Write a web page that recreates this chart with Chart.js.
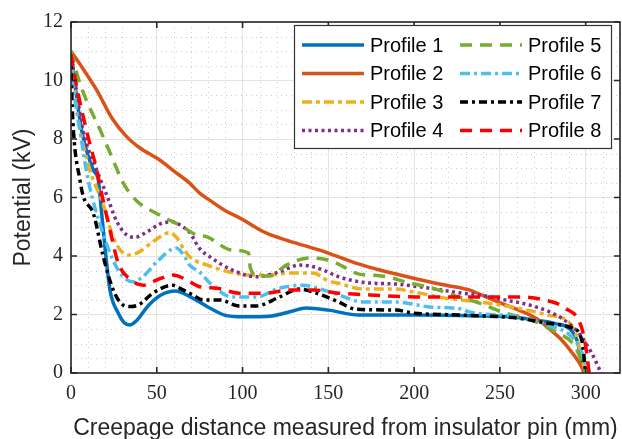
<!DOCTYPE html>
<html>
<head>
<meta charset="utf-8">
<script src="https://cdn.jsdelivr.net/npm/chart.js@4.4.0/dist/chart.umd.min.js"></script>
<style>
  body { margin: 0; background: #fff; }
  #wrap { width: 622px; height: 439px; position: relative; }
</style>
</head>
<body>
<div id="wrap"><canvas id="chart-potential"></canvas></div>
<script>
// readings taken off the figure: [creepage distance (mm), potential (kV)]
const profile1 = [[0,10.9],[6.2,8.3],[13,6.94],[15.9,6.6],[17.8,5.5],[19.8,4.3],[22.7,2.84],[27.5,2.05],[31,1.72],[34.3,1.64],[38,1.78],[45,2.3],[52,2.65],[61,2.8],[69,2.62],[80,2.25],[89.5,1.98],[100,1.92],[117,1.95],[128,2.1],[137,2.22],[150,2.15],[168,1.98],[200,1.98],[238,1.95],[255,1.92],[271,1.81],[283,1.68],[290,1.54],[295,1.1],[299,0]];
const profile2 = [[0,11.0],[7,10.4],[15,9.67],[24,8.7],[32.4,8.08],[40,7.7],[51.7,7.28],[60,6.9],[69,6.5],[75,6.15],[81,5.9],[90,5.55],[100,5.25],[107,5.0],[114,4.78],[125,4.55],[135,4.37],[145,4.2],[156,3.97],[168,3.72],[180,3.52],[199,3.25],[218.6,3.0],[232,2.84],[238,2.7],[251,2.38],[261,2.15],[271,1.87],[280,1.45],[286,1.13],[292,0.7],[297.7,0.2],[299,0]];
const profile3 = [[0,10.9],[4.3,8.65],[11,6.94],[13,6.6],[18.6,5.8],[24.5,4.65],[30.4,4.1],[34.3,4.03],[40,4.15],[48,4.5],[57.6,4.8],[62,4.6],[66,4.2],[70,3.93],[80,3.68],[88,3.52],[104,3.35],[115,3.35],[127,3.42],[141,3.42],[150,3.15],[156,3.07],[170,2.87],[189,2.87],[199,2.78],[218,2.56],[232,2.47],[245,2.37],[261,2.21],[278,1.98],[290,1.75],[294,1.36],[297,0.7],[300,0]];
const profile4 = [[0,10.9],[7,8.3],[15,6.94],[20.7,6.1],[26.5,5.2],[32.4,4.72],[37.2,4.64],[45,4.85],[52,5.1],[59.3,5.17],[65,5.0],[69,4.82],[75,4.25],[81,3.97],[94,3.52],[108,3.29],[121.5,3.46],[133,3.69],[140,3.65],[147,3.52],[156,3.29],[170,3.1],[189,3.04],[209,2.9],[228,2.73],[238,2.67],[251,2.52],[271,2.26],[286,1.87],[296,1.36],[303.5,0.68],[309,0]];
const profile5 = [[0,11.0],[5.2,9.9],[17.8,8.2],[23.7,7.4],[30.4,6.5],[38,5.9],[51.7,5.4],[65,5.0],[73,4.72],[79,4.66],[94,4.2],[103.5,4.1],[104.5,3.6],[109,3.32],[116,3.32],[125.5,3.69],[139,3.93],[147,3.9],[154.6,3.76],[168,3.38],[181,3.32],[196,3.1],[210.6,2.9],[226,2.6],[238,2.39],[251,2.09],[271,1.75],[282.5,1.4],[294,0.89],[300,0]];
const profile6 = [[0,10.8],[1.4,9.8],[5.2,8.3],[10,6.6],[18.6,4.78],[24.5,3.86],[30.4,3.29],[36,3.12],[42,3.3],[50,3.8],[61.4,4.27],[66,4.0],[69,3.7],[75,3.45],[81,3.07],[94,2.6],[108,2.6],[121.5,2.9],[135,3.0],[147,2.84],[156,2.67],[170,2.43],[189,2.43],[209,2.26],[228,2.18],[232,2.09],[261,1.92],[278,1.64],[292,1.23],[298,0.68],[302,0]];
const profile7 = [[0,10.9],[0.5,9.5],[1.4,8.3],[5.2,6.6],[7.2,6.03],[13,5.46],[18.8,3.98],[24.6,2.84],[30.4,2.32],[35,2.27],[40,2.35],[47.7,2.73],[59.3,3.0],[65,2.85],[71,2.67],[77,2.5],[86.6,2.5],[98,2.29],[108,2.29],[121.5,2.6],[133,2.87],[143,2.73],[156,2.43],[166,2.18],[189.5,2.15],[199,2.05],[228,1.98],[261,1.87],[278,1.7],[292,1.54],[297.7,1.13],[300,0]];
const profile8 = [[0,10.9],[3.3,9.8],[9,8.3],[15,6.94],[17.8,6.15],[22.7,4.9],[27.5,3.76],[35,3.18],[42,3.0],[50,3.18],[59.3,3.35],[67,3.2],[75,2.95],[85,2.9],[98,2.73],[114,2.73],[127,2.84],[141,2.84],[156,2.73],[174,2.67],[201,2.6],[232,2.6],[261,2.6],[275.6,2.5],[288,2.22],[297.7,1.54],[300.6,0.68],[302,0]];

const profileNames = ['Profile 1', 'Profile 2', 'Profile 3', 'Profile 4', 'Profile 5', 'Profile 6', 'Profile 7', 'Profile 8'];
const profileData = [profile1, profile2, profile3, profile4, profile5, profile6, profile7, profile8];

const xTicks = [0, 50, 100, 150, 200, 250, 300];
const yTicks = [0, 2, 4, 6, 8, 10, 12];

// MATLAB default line colours
const colors = ['#0072BD', '#D95319', '#EDB120', '#7E2F8E', '#77AC30', '#4DBEEE', '#000000', '#FF0000'];
const dashes = [[], [], [10, 4, 4, 4], [3, 3.5], [12, 8], [10, 4, 3, 4], [8, 4, 3, 4], [12, 8]];

const datasets = profileData.map((pts, i) => ({
    label: profileNames[i],
    data: pts.map(p => ({ x: p[0], y: p[1] })),
    borderColor: colors[i],
    backgroundColor: colors[i],
    borderWidth: 3.5,
    borderDash: dashes[i],
    borderCapStyle: 'butt',
    pointRadius: 0,
    cubicInterpolationMode: 'monotone',
    order: 8 - i
}));

// dotted minor grid (every 10 mm / 0.5 kV)
const minorGrid = {
    id: 'minorGrid',
    beforeDatasetsDraw(chart) {
        const { ctx, chartArea: a, scales: { x, y } } = chart;
        ctx.save();
        ctx.strokeStyle = 'rgba(0,0,0,0.2)';
        ctx.lineWidth = 1;
        ctx.setLineDash([1, 4]);
        for (let v = 10; v < x.max; v += 10) {
            if (v % 50 === 0) continue;
            const px = Math.round(x.getPixelForValue(v)) + 0.5;
            ctx.beginPath(); ctx.moveTo(px, a.bottom); ctx.lineTo(px, a.top); ctx.stroke();
        }
        for (let v = 0.5; v < y.max; v += 0.5) {
            if (v % 2 === 0) continue;
            const py = Math.round(y.getPixelForValue(v)) + 0.5;
            ctx.beginPath(); ctx.moveTo(a.left, py); ctx.lineTo(a.right, py); ctx.stroke();
        }
        ctx.restore();
    }
};

// box round the axes with inward ticks, then the two-column legend
const boxAndLegend = {
    id: 'boxAndLegend',
    afterDraw(chart) {
        const { ctx, chartArea: a, scales: { x, y } } = chart;
        ctx.save();
        ctx.strokeStyle = '#262626';
        ctx.lineWidth = 1.6;
        ctx.setLineDash([]);
        ctx.strokeRect(a.left, a.top, a.right - a.left, a.bottom - a.top);
        ctx.beginPath();
        xTicks.forEach(v => {
            const px = x.getPixelForValue(v);
            ctx.moveTo(px, a.bottom); ctx.lineTo(px, a.bottom - 6);
            ctx.moveTo(px, a.top); ctx.lineTo(px, a.top + 6);
        });
        yTicks.forEach(v => {
            const py = y.getPixelForValue(v);
            ctx.moveTo(a.left, py); ctx.lineTo(a.left + 6, py);
            ctx.moveTo(a.right, py); ctx.lineTo(a.right - 6, py);
        });
        ctx.stroke();

        // legend
        const lw = 317, lh = 123;
        const lx = a.right - 9 - lw, ly = a.top + 3;
        ctx.fillStyle = '#ffffff';
        ctx.fillRect(lx, ly, lw, lh);
        ctx.strokeStyle = '#333333';
        ctx.lineWidth = 1.2;
        ctx.strokeRect(lx + 0.5, ly + 0.5, lw, lh);
        ctx.font = '20px "Liberation Sans", Arial, sans-serif';
        ctx.textBaseline = 'middle';
        ctx.textAlign = 'left';
        chart.data.datasets.forEach((ds, i) => {
            const col = Math.floor(i / 4), row = i % 4;
            const x0 = lx + 8 + col * 158;
            const yc = ly + 20 + row * 28.5;
            ctx.strokeStyle = ds.borderColor;
            ctx.lineWidth = ds.borderWidth;
            ctx.lineCap = 'butt';
            ctx.setLineDash(ds.borderDash);
            ctx.beginPath(); ctx.moveTo(x0, yc); ctx.lineTo(x0 + 62, yc); ctx.stroke();
            ctx.setLineDash([]);
            ctx.fillStyle = '#000000';
            ctx.fillText(ds.label, x0 + 68, yc + 1);
        });
        ctx.restore();
    }
};

new Chart(document.getElementById('chart-potential'), {
    type: 'line',
    data: { datasets: datasets },
    options: {
        responsive: true,
        maintainAspectRatio: false,
        animation: false,
        events: [],
        layout: { padding: { top: 22, right: 2, left: 0, bottom: 0 } },
        scales: {
            x: {
                type: 'linear',
                min: 0,
                max: 320,
                afterBuildTicks: s => { s.ticks = xTicks.map(v => ({ value: v })); },
                afterFit: s => { s.height = 66; },
                grid: { color: '#e4e4e4', lineWidth: 1, drawTicks: false },
                border: { display: false },
                ticks: {
                    padding: 9,
                    color: '#262626',
                    font: { family: '"Liberation Serif", "Times New Roman", serif', size: 20 }
                },
                title: {
                    display: true,
                    text: 'Creepage distance measured from insulator pin (mm)',
                    color: '#262626',
                    font: { family: '"Liberation Sans", Arial, sans-serif', size: 23, lineHeight: 1 },
                    padding: { top: 0, bottom: -1 }
                }
            },
            y: {
                min: 0,
                max: 12,
                afterBuildTicks: s => { s.ticks = yTicks.map(v => ({ value: v })); },
                afterFit: s => { s.width = 71; },
                grid: { color: '#e4e4e4', lineWidth: 1, drawTicks: false },
                border: { display: false },
                ticks: {
                    padding: 8,
                    color: '#262626',
                    font: { family: '"Liberation Serif", "Times New Roman", serif', size: 20 }
                },
                title: {
                    display: true,
                    text: 'Potential (kV)',
                    color: '#262626',
                    font: { family: '"Liberation Sans", Arial, sans-serif', size: 23 },
                    padding: { top: 10, bottom: 0 }
                }
            }
        },
        plugins: {
            legend: { display: false },
            tooltip: { enabled: false }
        }
    },
    plugins: [minorGrid, boxAndLegend]
});
</script>
</body>
</html>
